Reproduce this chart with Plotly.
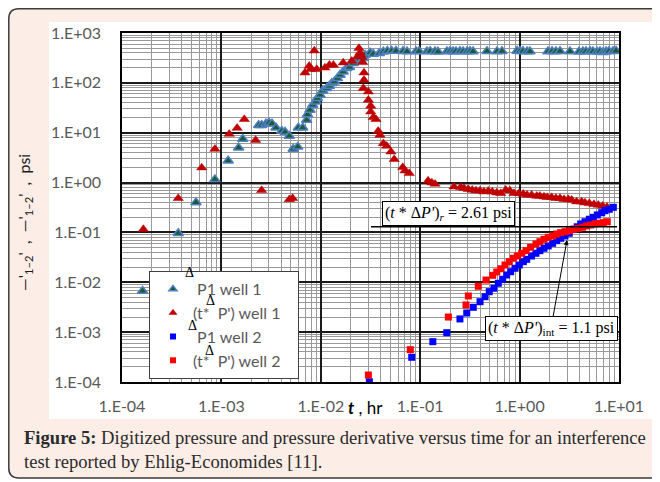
import plotly.graph_objects as go

# ---------------- data ----------------
# Well 1: pressure change (triangles, green/blue)
t_p1_w1 = [1.61e-4, 3.68e-4, 5.55e-4, 8.6e-4, 1.17e-3, 1.49e-3, 1.64e-3, 2.37e-3, 2.54e-3, 2.81e-3,
           3.01e-3, 3.23e-3, 3.54e-3, 4.05e-3, 4.37e-3, 4.82e-3, 5.28e-3, 5.86e-3, 5.94e-3, 6.58e-3,
           7.21e-3, 7.35e-3, 7.78e-3, 8.28e-3, 8.95e-3, 9.23e-3, 9.82e-3, 1.045e-2, 1.145e-2, 1.22e-2,
           1.29e-2, 1.37e-2, 1.47e-2, 1.56e-2, 1.68e-2, 1.82e-2, 1.94e-2, 2.12e-2, 2.33e-2, 2.48e-2,
           2.68e-2, 2.79e-2, 3.13e-2, 3.37e-2, 3.88e-2, 4.26e-2, 4.67e-2, 5.16e-2, 5.71e-2,
           0.0671, 0.0736, 0.0908, 0.0973, 0.117, 0.126, 0.141, 0.151, 0.186, 0.200, 0.214, 0.229,
           0.251, 0.270, 0.296, 0.317, 0.340, 0.470, 0.593, 0.665, 0.942, 1.01, 1.08, 1.19, 1.27,
           1.93, 2.12, 2.32, 2.55, 3.21, 3.96, 4.34, 4.66, 5.11, 5.47, 6.01, 6.44, 6.90, 7.40, 7.93,
           8.71, 9.33]
p1_w1 = [0.0067, 0.096, 0.40, 1.16, 2.75, 5.0, 7.5, 14.1, 14.1, 15.2,
         15.9, 15.2, 12.6, 10.8, 10.3, 8.6, 4.7, 5.2, 12.6, 12.6,
         18.0, 23.2, 28.6, 36.0, 41.9, 49.0, 57.1, 69.6, 77.8, 86.5,
         98.0, 105, 123, 144, 167, 196, 205, 247, 278, 297,
         311, 362, 403, 379, 392, 422, 436, 436, 436,
         430, 425, 428, 432, 425, 430, 428, 420, 428, 430, 425, 428,
         430, 425, 428, 430, 425, 432, 428, 430, 435, 430, 432, 428, 425,
         425, 430, 428, 432, 428, 420, 425, 428, 430, 425, 420, 428, 410, 425, 430,
         432, 438]

# Well 1: derivative (red triangles)
t_d_w1 = [1.64e-4, 3.68e-4, 6.34e-4, 8.6e-4, 1.2e-3, 1.44e-3, 1.70e-3, 2.21e-3, 2.54e-3, 4.82e-3,
          5.21e-3, 6.93e-3, 7.65e-3, 7.91e-3, 8.6e-3, 9.1e-3, 1.10e-2, 1.22e-2, 1.34e-2, 1.68e-2,
          2.05e-2, 2.33e-2, 2.42e-2, 2.48e-2, 2.58e-2, 2.64e-2, 2.72e-2, 2.72e-2, 2.68e-2, 3.01e-2,
          3.01e-2, 3.18e-2, 3.18e-2, 3.37e-2, 3.59e-2, 3.78e-2, 3.94e-2, 4.26e-2, 4.60e-2, 5.08e-2,
          5.48e-2, 6.67e-2, 7.03e-2, 7.76e-2, 0.120, 0.131, 0.141, 0.219, 0.255, 0.276,
          0.305, 0.334, 0.364, 0.400, 0.438, 0.484, 0.531, 0.589, 0.646, 0.725,
          0.80, 0.879, 0.986, 1.09, 1.19, 1.32, 1.49, 1.60, 1.76, 1.90,
          2.10, 2.32, 2.55, 2.80, 3.09, 3.34, 3.75, 4.21, 4.55, 5.03,
          5.60, 6.19, 6.86, 7.57]
d_w1 = [0.116, 0.484, 1.99, 4.71, 9.4, 12.4, 18.6, 7.1, 0.70, 0.46,
        0.484, 160, 218, 187, 442, 187, 201, 228, 228, 254,
        274, 335, 494, 403, 335, 258, 160, 114, 77.8, 66.5,
        45.3, 34.4, 26.4, 20.4, 18.6, 10.8, 9.0, 6.1, 5.4, 4.16,
        2.93, 2.02, 1.73, 1.53, 1.09, 0.995, 0.937, 0.826, 0.804, 0.768,
        0.733, 0.710, 0.687, 0.687, 0.656, 0.678, 0.656, 0.627, 0.610, 0.710,
        0.687, 0.610, 0.610, 0.590, 0.564, 0.564, 0.538, 0.538, 0.521, 0.507,
        0.507, 0.484, 0.484, 0.462, 0.462, 0.448, 0.414, 0.414, 0.395, 0.384,
        0.367, 0.355, 0.339, 0.324]

# Well 2: pressure change (blue squares)
t_p1_w2 = [3.08e-2, 8.22e-2, 0.134, 0.185, 0.251, 0.294, 0.342, 0.400, 0.449, 0.495,
           0.552, 0.611, 0.676, 0.741, 0.813, 0.899, 0.993, 1.09, 1.18, 1.32,
           1.46, 1.60, 1.76, 1.94, 2.15, 2.36, 2.59, 2.86, 3.16, 3.52,
           3.80, 4.12, 4.55, 5.03, 5.51, 6.05, 6.70, 7.23, 7.98, 8.77]
p1_w2 = [1.01e-4, 3.13e-4, 6.44e-4, 9.75e-4, 1.84e-3, 2.42e-3, 3.15e-3, 4.08e-3, 5.14e-3, 6.48e-3,
         7.59e-3, 9.55e-3, 1.15e-2, 1.40e-2, 1.63e-2, 1.91e-2, 2.22e-2, 2.59e-2, 2.89e-2, 3.37e-2,
         3.82e-2, 4.31e-2, 4.81e-2, 5.35e-2, 6.05e-2, 6.83e-2, 7.62e-2, 8.49e-2, 9.62e-2, 0.116,
         0.130, 0.148, 0.164, 0.184, 0.201, 0.224, 0.249, 0.273, 0.291, 0.319]

# Well 2: derivative (red squares)
t_d_w2 = [3.01e-2, 7.95e-2, 0.192, 0.289, 0.305, 0.384, 0.459, 0.536, 0.589, 0.646,
          0.713, 0.787, 0.865, 0.948, 1.05, 1.16, 1.29, 1.46, 1.60, 1.76,
          1.94, 2.15, 2.36, 2.59, 2.86, 3.16, 3.52, 3.90, 4.31, 4.73,
          5.19, 5.74, 6.34, 6.95, 7.62]
d_w2 = [1.38e-4, 4.45e-4, 2.01e-3, 3.51e-3, 5.31e-3, 8.32e-3, 1.11e-2, 1.38e-2, 1.61e-2, 1.87e-2,
        2.22e-2, 2.59e-2, 3.03e-2, 3.37e-2, 3.82e-2, 4.31e-2, 5.04e-2, 5.86e-2, 6.52e-2, 7.28e-2,
        8.0e-2, 8.49e-2, 9.31e-2, 9.89e-2, 0.1035, 0.108, 0.116, 0.121, 0.127, 0.135,
        0.141, 0.148, 0.153, 0.157, 0.164]

NB = "\u00a0"
series_names = [NB + "P1 well 1", "(t*" + NB * 2 + "P') well 1" + NB * 3,
                NB + "P1 well 2", "(t*" + NB * 2 + "P') well 2" + NB * 3]

x_tick_vals = [1e-4, 1e-3, 1e-2, 1e-1, 1, 10]
x_tick_text = ["1.E-04", "1.E-03", "1.E-02", "1.E-01", "1.E+00", "1.E+01"]
y_tick_vals = [1e-4, 1e-3, 1e-2, 1e-1, 1, 10, 100, 1000]
y_tick_text = ["1.E-04", "1.E-03", "1.E-02", "1.E-01", "1.E+00", "1.E+01", "1.E+02", "1.E+03"]

radial_level = 0.13          # horizontal line (t*dP')r
radial_span = [0.032, 9.55]

caption_bold = "Figure 5:"
caption_text = (" Digitized pressure and pressure derivative versus time for an interference"
                "<br>test reported by Ehlig-Economides [11].")

# ---------------- figure ----------------
# the page body has an 8px margin, so the figure is 8px smaller than the window
W, H = 652, 474
ML, MR, MT, MB = 114, 41, 25, 100
PW, PH = W - ML - MR, H - MT - MB
OFF = 8


def px(x):  # page pixel -> paper x
    return (x - OFF - ML) / PW


def py(y):  # page pixel -> paper y
    return (H - MB - (y - OFF)) / PH


styles = [
    dict(symbol="triangle-up", color="#1d5a33", line=dict(color="#4f81c4", width=1.5)),
    dict(symbol="triangle-up", color="#c00000", line=dict(color="#c00000", width=0.5)),
    dict(symbol="square", color="#0000ff", line=dict(width=0)),
    dict(symbol="square", color="#ff0000", line=dict(width=0)),
]
plot_sizes = [9, 9, 7, 7]
legend_sizes = [7, 7, 6, 6]
series = [(t_p1_w1, p1_w1), (t_d_w1, d_w1), (t_p1_w2, p1_w2), (t_d_w2, d_w2)]

fig = go.Figure()
for (xs, ys), st, sz, nm in zip(series, styles, plot_sizes, series_names):
    fig.add_trace(go.Scatter(x=xs, y=ys, mode="markers", name=nm, showlegend=False,
                             marker=dict(size=sz, **st)))
# legend entries (smaller symbols, as in the source legend)
for st, sz, nm in zip(styles, legend_sizes, series_names):
    fig.add_trace(go.Scatter(x=[None], y=[None], mode="markers", name=nm,
                             marker=dict(size=sz, **st)))

tick_font = dict(family="Lato", size=16, color="#595959")
common = dict(type="log", showline=True, linecolor="#000000", linewidth=1.5, mirror=True,
              showgrid=True, gridcolor="#1a1a1a", gridwidth=1.5, ticks="",
              tickfont=tick_font, zeroline=False,
              minor=dict(dtick="D1", showgrid=True, gridcolor="#999999", gridwidth=1.3))
fig.update_xaxes(range=[-4, 1], tickmode="array", tickvals=x_tick_vals, ticktext=x_tick_text,
                 ticklabelstandoff=9, **common)
fig.update_yaxes(range=[-4, 3], tickmode="array", tickvals=y_tick_vals, ticktext=y_tick_text,
                 ticklabelstandoff=16, **common)

# frame: pink rounded panel + white chart area
r = 10
x0, x1 = 8.8, 700
y0, y1 = 8.8, 478
path = (f"M {px(x0 + r)},{py(y0)} L {px(x1)},{py(y0)} L {px(x1)},{py(y1)} "
        f"L {px(x0 + r)},{py(y1)} Q {px(x0)},{py(y1)} {px(x0)},{py(y1 - r)} "
        f"L {px(x0)},{py(y0 + r)} Q {px(x0)},{py(y0)} {px(x0 + r)},{py(y0)} Z")
shapes = [
    dict(type="path", xref="paper", yref="paper", path=path, fillcolor="#fcede6",
         line=dict(color="#3a3a3a", width=1.5), layer="below"),
    dict(type="rect", xref="paper", yref="paper", x0=px(49), x1=px(653), y0=py(22), y1=py(419),
         fillcolor="#ffffff", line=dict(width=0), layer="below"),
    dict(type="line", xref="x", yref="y", x0=radial_span[0], x1=radial_span[1],
         y0=radial_level, y1=radial_level, line=dict(color="#000000", width=1.5)),
]

serif = dict(family="Liberation Serif", size=16, color="#000000")
annotations = [
    dict(xref="paper", yref="paper", x=px(448), y=py(213), showarrow=False,
         xanchor="center", yanchor="middle",
         text="(<i>t</i> * Δ<i>P'</i>)<sub><i>r</i></sub> = 2.61 psi", font=serif,
         bgcolor="#ffffff", bordercolor="#000000", borderwidth=1, borderpad=2),
    dict(xref="paper", yref="paper", x=px(567), y=py(240), ax=-16, ay=88,
         axref="pixel", ayref="pixel", showarrow=True, arrowhead=2, arrowsize=1,
         arrowwidth=1, arrowcolor="#000000",
         text="(<i>t</i> * Δ<i>P'</i>)<sub>int</sub> = 1.1 psi", font=serif,
         bgcolor="#ffffff", bordercolor="#000000", borderwidth=1, borderpad=2),
    # x-axis title placed between tick labels
    dict(xref="paper", yref="paper", x=px(346), y=py(407), xanchor="left", yanchor="middle",
         showarrow=False, text="<b><i>t</i></b> , hr",
         font=dict(family="Lato", size=17, color="#000000")),
    # y-axis title (as rendered in the source)
    dict(xref="paper", yref="paper", x=px(24), y=py(223), showarrow=False, textangle=-90,
         xanchor="center", yanchor="middle",
         text="—'<sub>1–2</sub>'  ,  —'<sub>1–2</sub>'  ,  psi",
         font=dict(family="Lato", size=16, color="#1a1a1a")),
    # caption
    dict(xref="paper", yref="paper", x=px(22), y=py(425), xanchor="left", yanchor="top",
         align="left", showarrow=False,
         text=f"<b>{caption_bold}</b>{caption_text}",
         font=dict(family="Liberation Serif", size=18.6, color="#2b2b2b")),
]
# stray delta glyphs of the legend
for (dx_, dy_) in [(189, 272), (210, 300), (192, 325), (209, 350)]:
    annotations.append(dict(xref="paper", yref="paper", x=px(dx_), y=py(dy_), showarrow=False,
                            xanchor="center", yanchor="middle", text="Δ",
                            font=dict(family="Liberation Serif", size=14, color="#000000")))

fig.update_layout(
    width=W, height=H, margin=dict(l=ML, r=MR, t=MT, b=MB),
    paper_bgcolor="#ffffff", plot_bgcolor="#ffffff",
    shapes=shapes, annotations=annotations,
    showlegend=True,
    legend=dict(x=px(149), y=py(271), xanchor="left", yanchor="top",
                bgcolor="#ffffff", bordercolor="#404040", borderwidth=1,
                font=dict(family="Lato", size=16, color="#595959"),
                itemsizing="trace", tracegroupgap=0, indentation=3),
)

fig.write_html("out.html", config={"displayModeBar": False})
